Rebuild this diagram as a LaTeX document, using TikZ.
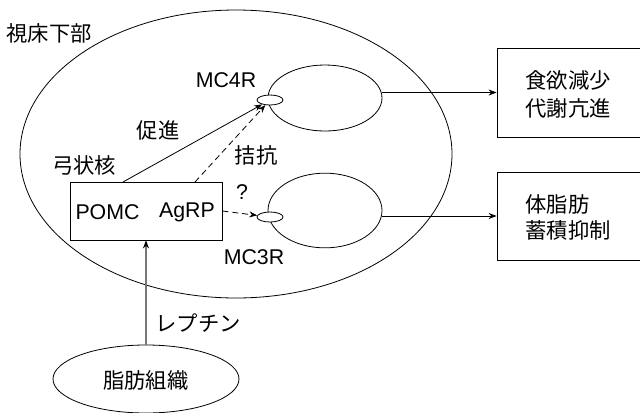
\documentclass[tikz,border=0pt]{standalone}
\usepackage{fontspec}
\setmainfont{Liberation Sans}
\newfontfamily\cjk{Noto Sans CJK JP}
\usetikzlibrary{shapes.geometric,arrows.meta}
\definecolor{leptgray}{HTML}{777777}
\begin{document}
\begin{tikzpicture}[x=0.75pt,y=-0.75pt,line width=0.6pt,
  every node/.style={font=\fontsize{16}{21}\selectfont},
  ell/.style={draw,ellipse,inner sep=0pt},
  boxn/.style={draw,rectangle,inner sep=0pt},
  lbl/.style={inner sep=0pt},
  arr/.style={-{Stealth[length=6pt,width=4.5pt]}},
  garr/.style={draw=leptgray,line width=0.9pt,-{Stealth[length=6pt,width=4.5pt,black]}},
  dsh/.style={dash pattern=on 4.5pt off 3pt}]
\useasboundingbox (0,0) rectangle (640,412);
\clip (0,0) rectangle (640,412);
% shapes
\node[ell,minimum width=324pt,minimum height=216pt] (hypo) at (236,154) {};
\node[ell,minimum width=85.5pt,minimum height=49.5pt] (mc4) at (325,98) {};
\node[ell,minimum width=85.5pt,minimum height=56pt] (mc3) at (325,210.5) {};
\node[ell,fill=white,minimum width=19.5pt,minimum height=7.5pt] (rec4) at (270,100) {};
\node[ell,fill=white,minimum width=19.5pt,minimum height=7.5pt] (rec3) at (270,217) {};
\node[boxn,minimum width=114pt,minimum height=43.5pt] (arc) at (146,211) {};
\node[boxn,minimum width=111pt,minimum height=66.75pt] (box1) at (571,92.5) {};
\node[boxn,minimum width=111pt,minimum height=66pt] (box2) at (571,216) {};
\node[ell,minimum width=139.5pt,minimum height=51pt] (fat) at (146,379) {};
% texts
\node[lbl,anchor=west] (thal) at (6,33) {\cjk 視床下部};
\node[lbl] (lmc4) at (226,80) {MC4R};
\node[lbl] (lmc3) at (254,257) {MC3R};
\node[lbl] (lsok) at (158,130) {\cjk 促進};
\node[lbl] (lkik) at (256,155) {\cjk 拮抗};
\node[lbl] (larc) at (84,165) {\cjk 弓状核};
\node[lbl] (lq) at (242,192) {?};
\node[lbl] (pomc) at (107.5,212) {POMC};
\node[lbl] (agrp) at (187,212) {AgRP};
\node[lbl] (lep) at (198,323) {\cjk レプチン};
\node[lbl] (lfat) at (146,380) {\cjk 脂肪組織};
\node[lbl,anchor=west,align=left] (t1) at (525,94) {\cjk 食欲減少\\\cjk 代謝亢進};
\node[lbl,anchor=west,align=left,font=\fontsize{16}{19}\selectfont] (t2) at (525,217.5) {\cjk 体脂肪\\\cjk 蓄積抑制};
% connectors
\coordinate (s1) at (123,182);
\coordinate (s2) at (195,182);
\draw[arr] (s1) -- (rec4);
\draw[arr,dsh] (s2) -- (rec4);
\draw[arr,dsh] (arc.east) -- (rec3);
\draw[garr] (fat.north) -- (arc.south);
\draw[arr] (box1.west -| mc4.east) -- (box1.west);
\draw[arr] (box2.west -| mc3.east) -- (box2.west);
\end{tikzpicture}
\end{document}
